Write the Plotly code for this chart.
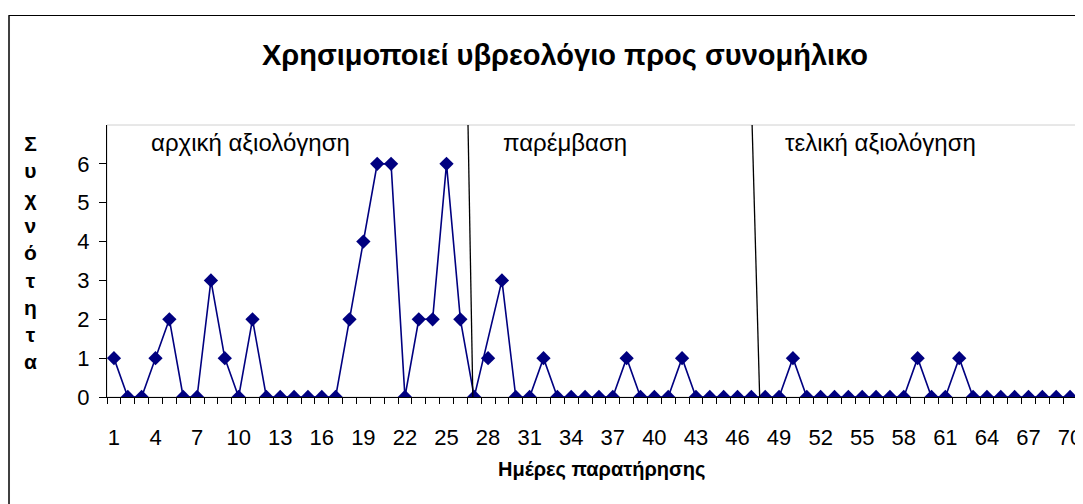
import plotly.graph_objects as go

# ---- data ----
days = list(range(1, 71))
frequency = [1, 0, 0, 1, 2, 0, 0, 3, 1, 0,
             2, 0, 0, 0, 0, 0, 0, 2, 4, 6,
             6, 0, 2, 2, 6, 2, 0, 1, 3, 0,
             0, 1, 0, 0, 0, 0, 0, 1, 0, 0,
             0, 1, 0, 0, 0, 0, 0, 0, 0, 1,
             0, 0, 0, 0, 0, 0, 0, 0, 1, 0,
             0, 1, 0, 0, 0, 0, 0, 0, 0, 0]
line_skip_days = [28]  # marker drawn but not joined by the line
tick_days = list(range(1, 71, 3))
y_ticks = [0, 1, 2, 3, 4, 5, 6]
phase_labels = ["αρχική αξιολόγηση", "παρέμβαση", "τελική αξιολόγηση"]
phase_label_x = [3.5, 28.9, 49.3]
phase_lines_top = [26.55, 47.05]
phase_lines_bottom = [26.9, 47.6]

title = "Χρησιμοποιεί υβρεολόγιο προς συνομήλικο"
x_title = "Ημέρες παρατήρησης"
y_title = "Συχνότητα"

NAVY = "#000080"
FONT = "Arial, Liberation Sans, sans-serif"

# page body adds an 8px offset; figure fills the rest of the 1083x504 window
W, H = 1075, 496
PL, PR, PT, PB = 99, 1074, 117, 389  # plot area in figure pixels
PW, PH = PR - PL, PB - PT


def px_x(px):
    return (px - 8 - PL) / PW


def px_y(py):
    return (PB - (py - 8)) / PH


line_vals = [None if d in line_skip_days else v for d, v in zip(days, frequency)]

fig = go.Figure()
fig.add_trace(go.Scatter(x=days, y=line_vals, mode="lines", connectgaps=True,
                         line=dict(color=NAVY, width=1.6), hoverinfo="skip",
                         showlegend=False))
fig.add_trace(go.Scatter(x=days, y=frequency, mode="markers",
                         marker=dict(symbol="diamond", size=11, color=NAVY),
                         showlegend=False))

shapes = []
# plot area border
shapes.append(dict(type="rect", xref="paper", yref="paper", x0=0, x1=1, y0=0, y1=1,
                   line=dict(color="#d0d0d0", width=1), layer="below"))
# chart outer border (left + top)
shapes.append(dict(type="line", xref="paper", yref="paper", x0=px_x(8.5), x1=px_x(8.5),
                   y0=px_y(520), y1=px_y(15.5), line=dict(color="#404040", width=2)))
shapes.append(dict(type="line", xref="paper", yref="paper", x0=px_x(8), x1=px_x(1100),
                   y0=px_y(15.5), y1=px_y(15.5), line=dict(color="black", width=1)))
for xt, xb in zip(phase_lines_top, phase_lines_bottom):
    shapes.append(dict(type="line", xref="x", yref="y", x0=xt, x1=xb, y0=7.05, y1=0,
                       line=dict(color="black", width=1.3)))

annotations = []
for txt, xx in zip(phase_labels, phase_label_x):
    annotations.append(dict(x=xx, y=6.55, xref="x", yref="y", text=txt, showarrow=False,
                            xanchor="left", yanchor="middle",
                            font=dict(family=FONT, size=24, color="black")))
annotations.append(dict(x=px_x(604), y=px_y(469), xref="paper", yref="paper",
                        text="<b>" + x_title + "</b>",
                        showarrow=False, xanchor="center", yanchor="middle",
                        font=dict(family=FONT, size=20, color="black")))
annotations.append(dict(x=px_x(30), y=px_y(252), xref="paper", yref="paper",
                        text="<br>".join("<b>" + c + "</b>" for c in y_title),
                        showarrow=False, xanchor="center", yanchor="middle",
                        font=dict(family=FONT, size=21, color="black")))

fig.update_layout(
    width=W, height=H,
    margin=dict(l=PL, r=W - PR, t=PT, b=H - PB, pad=0),
    paper_bgcolor="white", plot_bgcolor="white",
    title=dict(text="<b>" + title + "</b>", x=(565 - 8) / W, xref="container", xanchor="center",
               y=1 - (55 - 8) / H, yref="container", yanchor="middle",
               font=dict(family=FONT, size=29, color="black")),
    shapes=shapes, annotations=annotations,
    font=dict(family=FONT, color="black"),
)
fig.update_xaxes(range=[0.5, 70.5], tickvals=tick_days, ticktext=[str(d) for d in tick_days],
                 ticks="", showgrid=False, zeroline=False, showline=True, linecolor="black",
                 linewidth=1, tickfont=dict(family=FONT, size=22, color="black"),
                 ticklabelstandoff=21, ticklabeloverflow="allow",
                 minor=dict(tick0=0.5, dtick=1, ticks="outside", ticklen=6,
                            tickcolor="black", showgrid=False))
fig.update_yaxes(range=[0, 7], tickvals=y_ticks, ticks="outside", ticklen=7,
                 tickcolor="black", showgrid=False, zeroline=False, showline=True,
                 linecolor="black", linewidth=1,
                 tickfont=dict(family=FONT, size=22, color="black"), ticklabelstandoff=5)

fig.write_html("out.html")
